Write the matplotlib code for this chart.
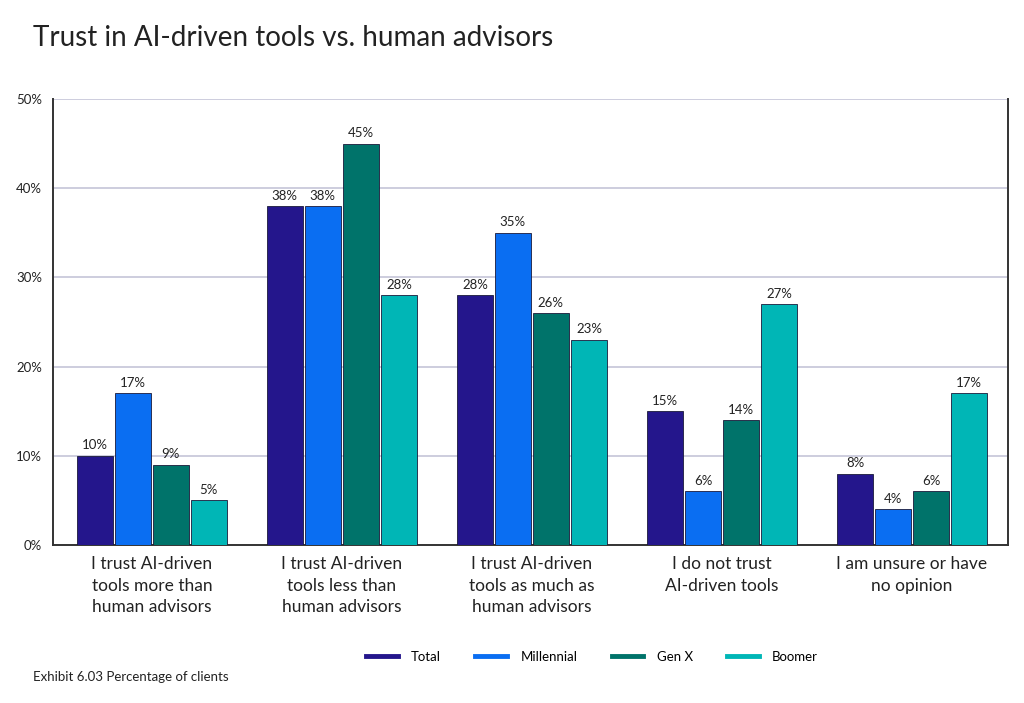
import numpy as np
import matplotlib
matplotlib.use("Agg")
import matplotlib.pyplot as plt
from matplotlib.lines import Line2D

categories = ["I trust AI-driven\ntools more than\nhuman advisors",
              "I trust AI-driven\ntools less than\nhuman advisors",
              "I trust AI-driven\ntools as much as\nhuman advisors",
              "I do not trust\nAI-driven tools",
              "I am unsure or have\nno opinion"]
series = ["Total", "Millennial", "Gen X", "Boomer"]
total = [10, 38, 28, 15, 8]
millennial = [17, 38, 35, 6, 4]
genx = [9, 45, 26, 14, 6]
boomer = [5, 28, 23, 27, 17]
colors = ["#24168c", "#0a6ef2", "#00736a", "#00b6b6"]

plt.rcParams['font.family'] = ['Lato', 'DejaVu Sans']

fig = plt.figure(figsize=(10.24, 7.03), dpi=100)
ax = fig.add_axes([53 / 1024, 1 - 545 / 703, 955 / 1024, 446 / 703])

x = np.arange(len(categories))
width = 0.19
step = 0.2
for i, vals in enumerate([total, millennial, genx, boomer]):
    pos = x + (i - 1.5) * step
    bars = ax.bar(pos, vals, width, color=colors[i], edgecolor="#1a1a3a",
                  linewidth=0.6, zorder=3)
    for b, v in zip(bars, vals):
        ax.text(b.get_x() + b.get_width() / 2, v + 0.5, f"{v}%",
                ha="center", va="bottom", fontsize=9.5, color="#222222", zorder=4)

ax.set_xlim(-0.52, 4.505)
ax.set_ylim(0, 50)
ax.set_yticks([0, 10, 20, 30, 40, 50])
ax.set_yticklabels([f"{t}%" for t in [0, 10, 20, 30, 40, 50]], fontsize=9.5,
                   color="#222222")
ax.yaxis.grid(True, color="#c5c5d8", linewidth=1.2, zorder=0)
ax.tick_params(axis="y", length=0, pad=8)
ax.tick_params(axis="x", length=0, pad=8)
ax.set_xticks(x)
ax.set_xticklabels(categories, fontsize=12.5, color="#222222", linespacing=1.42)
ax.spines["top"].set_visible(False)
for s in ["left", "right", "bottom"]:
    ax.spines[s].set_color("#333333")
    ax.spines[s].set_linewidth(1.4)

fig.text(33 / 1024, 1 - 38 / 703, "Trust in AI-driven tools vs. human advisors",
         fontsize=20, color="#222222", va="center", ha="left")
fig.text(33 / 1024, 1 - 677 / 703, "Exhibit 6.03 Percentage of clients",
         fontsize=9.5, color="#222222", va="center", ha="left")

handles = [Line2D([0], [0], color=c, linewidth=3.5) for c in colors]
fig.legend(handles, series, loc="center", bbox_to_anchor=(592 / 1024, 1 - 657 / 703),
           ncol=4, frameon=False, fontsize=9.5, handlelength=2.4,
           columnspacing=2.6, handletextpad=1.0)

fig.savefig("out.png", dpi=100)
